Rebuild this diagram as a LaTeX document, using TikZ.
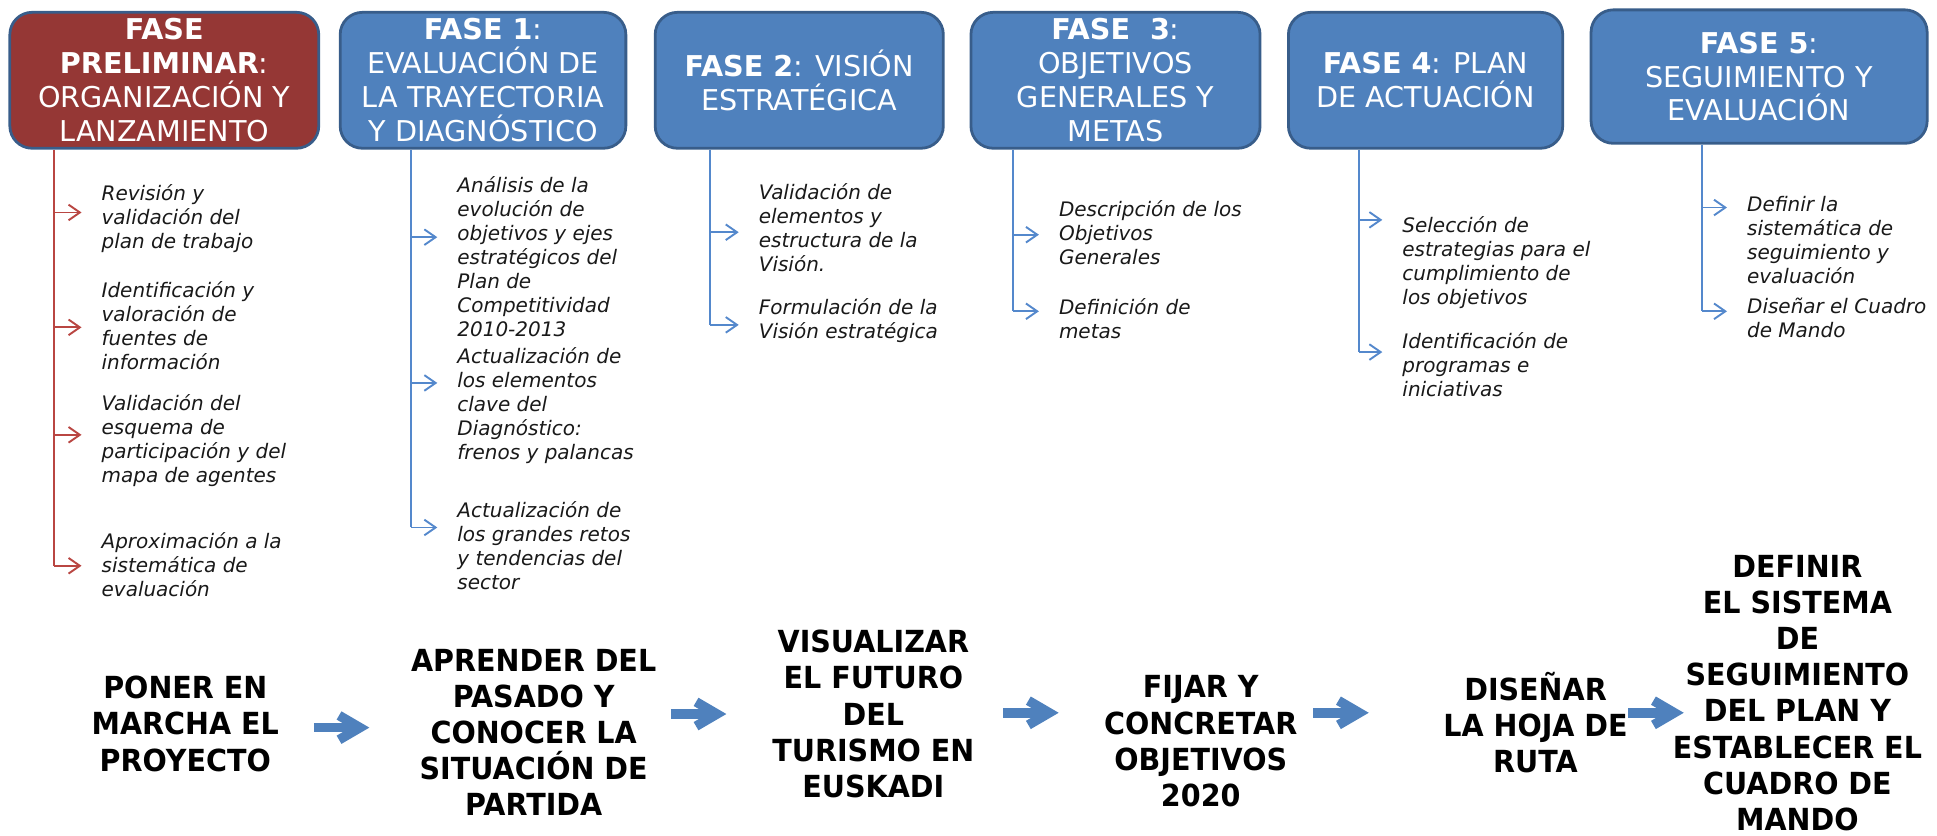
\documentclass[tikz,border=0pt]{standalone}
\usepackage{fontspec}
\setmainfont{DejaVu Sans}
\newfontfamily\negrita[FakeStretch=0.94]{DejaVu Sans}
\usepackage{xcolor}
\usetikzlibrary{arrows.meta}

\definecolor{azulfase}{RGB}{79,129,189}
\definecolor{bordefase}{RGB}{56,93,138}
\definecolor{rojofase}{RGB}{149,55,53}
\definecolor{rojolinea}{RGB}{185,70,66}
\definecolor{azullinea}{RGB}{84,136,204}

\tikzset{
	fase/.style={draw=bordefase, line width=1.6pt, fill=azulfase, rounded corners=0.45cm,
		text=white, align=center, inner sep=0pt, minimum height=2.75cm,
		font=\fontsize{16.5}{19.5}\selectfont},
	tarea/.style={anchor=north west, align=left, inner sep=0pt, text=black!90,
		font=\fontsize{11.5}{13.8}\selectfont\itshape},
	meta/.style={align=center, inner sep=0pt, font=\negrita\bfseries\fontsize{17.5}{20.8}\selectfont},
	linea/.style={azullinea, line width=1.1pt},
	flecha/.style={linea, -{Straight Barb[length=6.5pt,width=9pt]}, shorten >=0.4cm},
	flechaGrande/.style={azulfase, line width=5.5pt, -{Straight Barb[length=12pt,width=14pt]}}
}

\begin{document}
\begin{tikzpicture}[x=0.025cm,y=-0.025cm]
			%\draw[help lines,step=20] (0,0) grid (1568,676);
			\useasboundingbox (0,0) rectangle (1568,676);
			
				% fases
				\node[fase, fill=rojofase, minimum width=6.25cm] (f0) at (133,65)
					{{\bfseries FASE}\\{\bfseries PRELIMINAR}:\\ORGANIZACIÓN Y\\LANZAMIENTO};
				\node[fase, minimum width=5.78cm] (f1) at (391,65)
					{{\bfseries FASE 1}:\\EVALUACIÓN DE\\LA TRAYECTORIA\\Y DIAGNÓSTICO};
				\node[fase, minimum width=5.83cm] (f2) at (647,65)
					{{\bfseries FASE 2}: VISIÓN\\ESTRATÉGICA};
				\node[fase, minimum width=5.85cm] (f3) at (903,65)
					{{\bfseries FASE\ \ 3}:\\OBJETIVOS\\GENERALES Y\\METAS};
				\node[fase, minimum width=5.55cm] (f4) at (1154,65)
					{{\bfseries FASE 4}: PLAN\\DE ACTUACIÓN};
				\node[fase, minimum width=6.8cm, minimum height=2.7cm] (f5) at (1424,62)
					{{\bfseries FASE 5}:\\SEGUIMIENTO Y\\EVALUACIÓN};
				
				% tareas fase preliminar
				\node[tarea] (t01) at (82,149) {Revisión y\\validación del\\plan de trabajo};
				\node[tarea] (t02) at (82,228) {Identificación y\\valoración de\\fuentes de\\información};
				\node[tarea] (t03) at (82,319) {Validación del\\esquema de\\participación y del\\mapa de agentes};
				\node[tarea] (t04) at (82,431) {Aproximación a la\\sistemática de\\evaluación};
				\coordinate (a01) at (44,172);
				\coordinate (a02) at (44,265);
				\coordinate (a03) at (44,352);
				\coordinate (a04) at (44,458);
				\draw[linea, rojolinea] (f0.south -| a04) -- (a04);
				\draw[flecha, rojolinea] (a01) -- (a01 -| t01.west);
				\draw[flecha, rojolinea] (a02) -- (a02 -| t02.west);
				\draw[flecha, rojolinea] (a03) -- (a03 -| t03.west);
				\draw[flecha, rojolinea] (a04) -- (a04 -| t04.west);
				
				% tareas fase 1
				\node[tarea] (t11) at (370,143) {Análisis de la\\evolución de\\objetivos y ejes\\estratégicos del\\Plan de\\Competitividad\\2010-2013};
				\node[tarea] (t12) at (370,281) {Actualización de\\los elementos\\clave del\\Diagnóstico:\\frenos y palancas};
				\node[tarea] (t13) at (370,406) {Actualización de\\los grandes retos\\y tendencias del\\sector};
				\coordinate (a11) at (333,192);
				\coordinate (a12) at (333,310);
				\coordinate (a13) at (333,427);
				\draw[linea] (f1.south -| a13) -- (a13);
				\draw[flecha] (a11) -- (a11 -| t11.west);
				\draw[flecha] (a12) -- (a12 -| t12.west);
				\draw[flecha] (a13) -- (a13 -| t13.west);
				
				% tareas fase 2
				\node[tarea] (t21) at (614,148) {Validación de\\elementos y\\estructura de la\\Visión.};
				\node[tarea] (t22) at (614,241) {Formulación de la\\Visión estratégica};
				\coordinate (a21) at (575,188);
				\coordinate (a22) at (575,263);
				\draw[linea] (f2.south -| a22) -- (a22);
				\draw[flecha] (a21) -- (a21 -| t21.west);
				\draw[flecha] (a22) -- (a22 -| t22.west);
				
				% tareas fase 3
				\node[tarea] (t31) at (857,162) {Descripción de los\\Objetivos\\Generales};
				\node[tarea] (t32) at (857,241) {Definición de\\metas};
				\coordinate (a31) at (820,190);
				\coordinate (a32) at (820,252);
				\draw[linea] (f3.south -| a32) -- (a32);
				\draw[flecha] (a31) -- (a31 -| t31.west);
				\draw[flecha] (a32) -- (a32 -| t32.west);
				
				% tareas fase 4
				\node[tarea] (t41) at (1135,175) {Selección de\\estrategias para el\\cumplimiento de\\los objetivos};
				\node[tarea] (t42) at (1135,269) {Identificación de\\programas e\\iniciativas};
				\coordinate (a41) at (1100,178);
				\coordinate (a42) at (1100,285);
				\draw[linea] (f4.south -| a42) -- (a42);
				\draw[flecha] (a41) -- (a41 -| t41.west);
				\draw[flecha] (a42) -- (a42 -| t42.west);
				
				% tareas fase 5
				\node[tarea] (t51) at (1414,159) {Definir la\\sistemática de\\seguimiento y\\evaluación};
				\node[tarea] (t52) at (1414,241) {Diseñar el Cuadro\\de Mando};
				\coordinate (a51) at (1378,168);
				\coordinate (a52) at (1378,252);
				\draw[linea] (f5.south -| a52) -- (a52);
				\draw[flecha] (a51) -- (a51 -| t51.west);
				\draw[flecha] (a52) -- (a52 -| t52.west);
				
				% objetivos de cada fase
				\node[meta] (p0) at (150,586) {PONER EN\\MARCHA EL\\PROYECTO};
				\node[meta] (p1) at (432,593) {APRENDER DEL\\PASADO Y\\CONOCER LA\\SITUACIÓN DE\\PARTIDA};
				\node[meta] (p2) at (707,578) {VISUALIZAR\\EL FUTURO\\DEL\\TURISMO EN\\EUSKADI};
				\node[meta] (p3) at (972,600) {FIJAR Y\\CONCRETAR\\OBJETIVOS\\2020};
				\node[meta] (p4) at (1243,585) {DISEÑAR\\LA HOJA DE\\RUTA};
				\node[meta] (p5) at (1455,561) {DEFINIR\\EL SISTEMA\\DE\\SEGUIMIENTO\\DEL PLAN Y\\ESTABLECER EL\\CUADRO DE\\MANDO};
				
				\coordinate (b1) at (254,589);  \coordinate (c1) at (299,589);
				\coordinate (b2) at (543,578);  \coordinate (c2) at (588,578);
				\coordinate (b3) at (812,577);  \coordinate (c3) at (857,577);
				\coordinate (b4) at (1063,577); \coordinate (c4) at (1108,577);
				\coordinate (b5) at (1318,577); \coordinate (c5) at (1363,577);
				\draw[flechaGrande] (b1) -- (c1);
				\draw[flechaGrande] (b2) -- (c2);
				\draw[flechaGrande] (b3) -- (c3);
				\draw[flechaGrande] (b4) -- (c4);
				\draw[flechaGrande] (b5) -- (c5);
			
			\end{tikzpicture}
\end{document}
